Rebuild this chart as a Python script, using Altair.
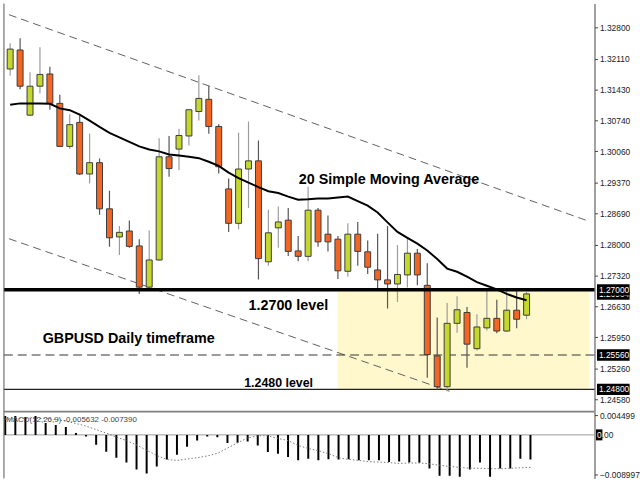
import altair as alt
import pandas as pd

# ---------------- data ----------------
opens = [1.3188, 1.3230, 1.3086, 1.3150, 1.3177, 1.3112, 1.3017, 1.3070, 1.2956, 1.2981,
         1.2879, 1.2817, 1.2830, 1.2797, 1.2706, 1.2766, 1.2994, 1.3011, 1.3040, 1.3094,
         1.3121, 1.3061, 1.2923, 1.2847, 1.2967, 1.2985, 1.2762, 1.2837, 1.2854, 1.2786,
         1.2774, 1.2876, 1.2823, 1.2812, 1.2741, 1.2823, 1.2784, 1.2744, 1.2722, 1.2713,
         1.2733, 1.2781, 1.2710, 1.2554, 1.2486, 1.2626, 1.2650, 1.2570, 1.2616, 1.2637,
         1.2609, 1.2655, 1.2644]
highs = [1.3245, 1.3256, 1.3181, 1.3236, 1.3193, 1.3131, 1.3088, 1.3085, 1.3045, 1.2990,
         1.2919, 1.2841, 1.2853, 1.2812, 1.2831, 1.3035, 1.3040, 1.3056, 1.3099, 1.3174,
         1.3150, 1.3066, 1.2946, 1.3047, 1.3072, 1.3030, 1.2877, 1.2884, 1.2881, 1.2819,
         1.2928, 1.2881, 1.2864, 1.2819, 1.2847, 1.2850, 1.2809, 1.2824, 1.2841, 1.2799,
         1.2815, 1.2790, 1.2759, 1.2639, 1.2671, 1.2686, 1.2662, 1.2646, 1.2702, 1.2678,
         1.2702, 1.2697, 1.2695]
lows = [1.3173, 1.3143, 1.3084, 1.3134, 1.3098, 1.3016, 1.3011, 1.2954, 1.2935, 1.2866,
        1.2795, 1.2777, 1.2793, 1.2691, 1.2704, 1.2765, 1.2950, 1.2965, 1.3019, 1.3074,
        1.3045, 1.2957, 1.2828, 1.2834, 1.2881, 1.2723, 1.2753, 1.2793, 1.2775, 1.2763,
        1.2763, 1.2795, 1.2785, 1.2724, 1.2729, 1.2753, 1.2735, 1.2702, 1.2659, 1.2673,
        1.2705, 1.2710, 1.2506, 1.2480, 1.2476, 1.2605, 1.2528, 1.2566, 1.2610, 1.2604,
        1.2607, 1.2615, 1.2635]
closes = [1.3232, 1.3150, 1.3150, 1.3176, 1.3112, 1.3017, 1.3065, 1.2956, 1.2981, 1.2879,
          1.2815, 1.2827, 1.2796, 1.2706, 1.2766, 1.2994, 1.2968, 1.3041, 1.3098, 1.3123,
          1.3061, 1.2972, 1.2847, 1.2967, 1.2985, 1.2769, 1.2826, 1.2850, 1.2785, 1.2774,
          1.2876, 1.2806, 1.2806, 1.2742, 1.2823, 1.2785, 1.2750, 1.2722, 1.2713, 1.2734,
          1.2781, 1.2733, 1.2557, 1.2486, 1.2626, 1.2656, 1.2580, 1.2618, 1.2637, 1.2609,
          1.2655, 1.2635, 1.2691]
ma20 = [1.3109, 1.3112, 1.3112, 1.3112, 1.3111, 1.3101, 1.3097, 1.3087, 1.3074, 1.3060,
        1.3047, 1.3037, 1.3027, 1.3017, 1.3010, 1.3006, 1.2999, 1.2997, 1.2994, 1.2991,
        1.2983, 1.2974, 1.2959, 1.2947, 1.2937, 1.2927, 1.2918, 1.2914, 1.2906, 1.2899,
        1.2900, 1.2902, 1.2902, 1.2904, 1.2906, 1.2896, 1.2886, 1.2871, 1.2849, 1.2828,
        1.2815, 1.2802, 1.2787, 1.2768, 1.2747, 1.2740, 1.2729, 1.2717, 1.2709, 1.2701,
        1.2691, 1.2683, 1.2677]
macd_hist = [0.00428, 0.00428, 0.00405, 0.00428, 0.00270, 0.00225, 0.00180, 0.00045, -0.00038, -0.00225,
             -0.00383, -0.00518, -0.00631, -0.00788, -0.00878, -0.00721, -0.00563, -0.00450, -0.00270, -0.00128,
             -0.00038, -0.00052, -0.00187, -0.00180, -0.00151, -0.00241, -0.00390, -0.00428, -0.00502, -0.00579,
             -0.00541, -0.00579, -0.00556, -0.00563, -0.00556, -0.00579, -0.00579, -0.00579, -0.00615, -0.00608,
             -0.00631, -0.00637, -0.00766, -0.00930, -0.00930, -0.00953, -0.00788, -0.00631, -0.00953, -0.00766,
             -0.00766, -0.00541, -0.00563]
macd_signal = [0.0036, 0.0037, 0.0038, 0.0038, 0.0037, 0.0035, 0.0031, 0.0026, 0.0020, 0.0012,
               0.0004, -0.0005, -0.0013, -0.0023, -0.0035, -0.0047, -0.0056, -0.0058, -0.0055, -0.0052,
               -0.0048, -0.0042, -0.0030, -0.0018, -0.0007, -0.0002, -0.0002, -0.0008, -0.0013, -0.0024,
               -0.0031, -0.0036, -0.0043, -0.0052, -0.0056, -0.0058, -0.0061, -0.0062, -0.0063, -0.0065,
               -0.0064, -0.0064, -0.0066, -0.0069, -0.0072, -0.0074, -0.0076, -0.0076, -0.0077, -0.0077,
               -0.0076, -0.0075, -0.0074]

price_ticks = [1.32800, 1.32110, 1.31430, 1.30740, 1.30060, 1.29370, 1.28690,
               1.28000, 1.27320, 1.26630, 1.25950, 1.25260, 1.24580]
macd_ticks = [0.004499, -0.008997]

level_main = 1.2700
level_mid = 1.2556
level_low = 1.2480
flag_prices = [1.27000, 1.25560, 1.24800]
flag_texts = ["1.27000", "1.25560", "1.24800"]
last_price = 1.26904

zone_x = [32.98, 58.34]
zone_y = [1.2700, 1.2480]

chan_x0 = [-0.127, -0.127]
chan_y0 = [1.3308, 1.2813]
chan_x1 = [58.34, 44.24]
chan_y1 = [1.2851, 1.2476]

ann_text = ["20 Simple Moving Average", "1.2700 level", "GBPUSD Daily timeframe", "1.2480 level"]
ann_x = [29.06, 24.0, 3.27, 23.57]
ann_y = [1.2943, 1.2664, 1.2592, 1.2494]
ann_fs = [14.5, 14.5, 14.5, 12.5]

macd_label = "MACD(12,26,9) -0.005632 -0.007390"

# ---------------- scales / frames ----------------
W, H_MAIN, H_MACD = 597, 413, 67
xs = alt.Scale(domain=[-0.127, 58.34], nice=False, zero=False)
ys = alt.Scale(domain=[1.24298, 1.33325], nice=False, zero=False)
ms = alt.Scale(domain=[-0.00991, 0.00518], nice=False, zero=False)

yaxis = alt.Axis(orient="right", values=price_ticks, format=".5f", title=None,
                 labelOverlap=False, labelFlush=False)
maxis = alt.Axis(orient="right", values=macd_ticks, format=".6f", title=None,
                 labelOverlap=False, labelFlush=False)

n = len(opens)
df = pd.DataFrame({"i": list(range(n)), "open": opens, "high": highs, "low": lows,
                   "close": closes, "ma": ma20, "hist": macd_hist, "sig": macd_signal})
df["zero"] = 0.0

X = alt.X("i:Q", scale=xs, axis=None)
base = alt.Chart(df)

zone = alt.Chart(pd.DataFrame({"x0": [zone_x[0]], "x1": [zone_x[1]],
                               "y0": [zone_y[0]], "y1": [zone_y[1]]})).mark_rect(
    color="#FFF8CC", clip=True).encode(
    x=alt.X("x0:Q", scale=xs, axis=None), x2="x1:Q",
    y=alt.Y("y0:Q", scale=ys, axis=yaxis), y2="y1:Q")

chan = alt.Chart(pd.DataFrame({"x0": chan_x0, "y0": chan_y0, "x1": chan_x1, "y1": chan_y1})).mark_rule(
    color="#606060", strokeWidth=1, strokeDash=[8, 5], clip=True).encode(
    x=alt.X("x0:Q", scale=xs, axis=None), x2="x1:Q",
    y=alt.Y("y0:Q", scale=ys, axis=yaxis), y2="y1:Q")

lv_mid = alt.Chart(pd.DataFrame({"p": [level_mid]})).mark_rule(
    color="#333333", strokeWidth=1, strokeDash=[9, 5]).encode(
    y=alt.Y("p:Q", scale=ys, axis=yaxis))
lv_low = alt.Chart(pd.DataFrame({"p": [level_low]})).mark_rule(
    color="#222222", strokeWidth=1.3).encode(
    y=alt.Y("p:Q", scale=ys, axis=yaxis))

wicks = base.mark_rule(strokeWidth=1.2, clip=True).encode(
    x=X, y=alt.Y("low:Q", scale=ys, axis=yaxis), y2="high:Q",
    color=alt.condition("datum.close >= datum.open", alt.value("#9c9c9c"), alt.value("#555555")))

bodies = base.mark_bar(size=6, stroke="#3c3c3c", strokeWidth=1, clip=True).encode(
    x=X, y=alt.Y("open:Q", scale=ys, axis=yaxis), y2="close:Q",
    color=alt.condition("datum.close >= datum.open", alt.value("#C3D72D"), alt.value("#F26522")))

ma_line = base.mark_line(color="black", strokeWidth=2, clip=True).encode(
    x=X, y=alt.Y("ma:Q", scale=ys, axis=yaxis))

lv_main = alt.Chart(pd.DataFrame({"p": [level_main]})).mark_rule(
    color="black", strokeWidth=3.5).encode(
    y=alt.Y("p:Q", scale=ys, axis=yaxis))

ann = alt.Chart(pd.DataFrame({"x": ann_x, "y": ann_y, "t": ann_text, "fs": ann_fs})).mark_text(
    align="left", baseline="middle", font="Liberation Sans", fontWeight="bold", color="black").encode(
    x=alt.X("x:Q", scale=xs, axis=None), y=alt.Y("y:Q", scale=ys, axis=yaxis),
    text="t:N", size=alt.Size("fs:Q", scale=None))

# frame: left border and bottom separator (no top border, as in the reference)
left_border = alt.Chart(pd.DataFrame({"p": [level_main]})).mark_rule(
    color="#555555", strokeWidth=1).encode(x=alt.value(0))
bottom_sep = alt.Chart(pd.DataFrame({"p": [level_main]})).mark_rule(
    color="#808080", strokeWidth=2).encode(y=alt.value(H_MAIN - 0.5))

def flag(prices, texts):
    d = pd.DataFrame({"p": prices, "t": texts})
    d["top"] = d["p"] + 0.00125
    d["bot"] = d["p"] - 0.00125
    r = alt.Chart(d).mark_rect(color="black").encode(
        x=alt.value(599.5), x2=alt.value(632.5),
        y=alt.Y("top:Q", scale=ys, axis=yaxis), y2="bot:Q")
    t = alt.Chart(d).mark_text(align="left", baseline="middle", color="white",
                               font="Liberation Sans", fontSize=8.5).encode(
        x=alt.value(601.5), y=alt.Y("p:Q", scale=ys, axis=yaxis), text="t:N")
    return [r, t]

main = alt.layer(zone, chan, lv_mid, lv_low, wicks, bodies, ma_line, lv_main, ann,
                 left_border, bottom_sep,
                 *flag([last_price], ["1.26904"]), *flag(flag_prices, flag_texts)).properties(
    width=W, height=H_MAIN)

# ---------------- MACD panel ----------------
MX = alt.X("i:Q", scale=xs, axis=None)
zero_line = alt.Chart(pd.DataFrame({"v": [0.0]})).mark_rule(color="#9a9a9a", strokeWidth=1).encode(
    y=alt.Y("v:Q", scale=ms, axis=maxis))
hist = base.mark_rule(color="black", strokeWidth=2, clip=True).encode(
    x=MX, y=alt.Y("hist:Q", scale=ms, axis=maxis), y2="zero:Q")
sig = base.mark_line(color="#7a7a7a", strokeWidth=1, strokeDash=[1.5, 2], clip=True).encode(
    x=MX, y=alt.Y("sig:Q", scale=ms, axis=maxis))
mlabel = alt.Chart(pd.DataFrame({"x": [0.1], "y": [0.00345], "t": [macd_label]})).mark_text(
    align="left", baseline="middle", font="Liberation Sans", fontSize=8, color="#444444").encode(
    x=alt.X("x:Q", scale=xs, axis=None), y=alt.Y("y:Q", scale=ms, axis=maxis), text="t:N")
m_left = alt.Chart(pd.DataFrame({"v": [0.0]})).mark_rule(
    color="#555555", strokeWidth=1).encode(x=alt.value(0))

zd = pd.DataFrame({"v": [0.0], "top": [0.00125], "bot": [-0.00125]})
zrect = alt.Chart(zd).mark_rect(color="black").encode(
    x=alt.value(598.5), x2=alt.value(605), y=alt.Y("top:Q", scale=ms, axis=maxis), y2="bot:Q")
ztxt1 = alt.Chart(zd).mark_text(align="left", baseline="middle", color="white",
                                font="Liberation Sans", fontSize=8.5).encode(
    x=alt.value(599.5), y=alt.Y("v:Q", scale=ms, axis=maxis), text=alt.value("0"))
ztxt2 = alt.Chart(zd).mark_text(align="left", baseline="middle", color="#222222",
                                font="Liberation Sans", fontSize=8.5).encode(
    x=alt.value(604.3), y=alt.Y("v:Q", scale=ms, axis=maxis), text=alt.value(".00"))

macd = alt.layer(zero_line, hist, sig, mlabel, m_left, zrect, ztxt1, ztxt2).properties(
    width=W, height=H_MACD)

chart = alt.vconcat(main, macd, spacing=0, bounds="flush").properties(
    padding={"left": 2, "top": 0, "right": 0, "bottom": 0},
    background="white"
).configure_view(strokeWidth=0).configure_axis(
    labelFont="Liberation Sans", labelFontSize=8.5, labelColor="#222222",
    tickColor="#444444", domainColor="#444444", tickSize=3, labelPadding=2, grid=False)

chart.save("out.html", embed_options={"renderer": "svg", "actions": False})
